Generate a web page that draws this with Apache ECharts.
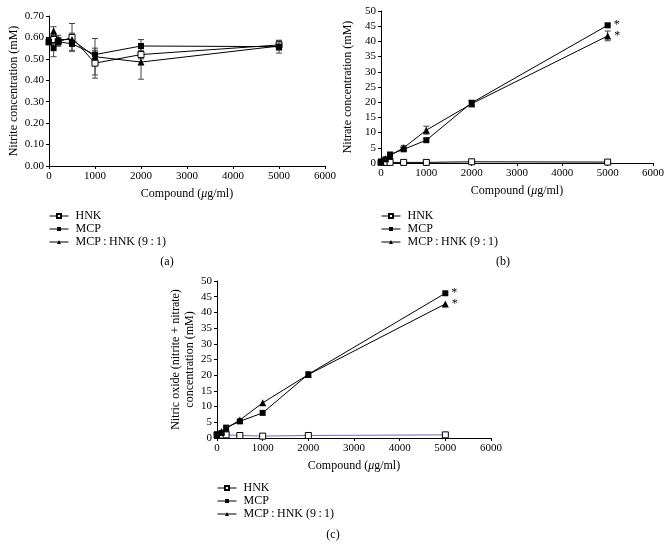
<!DOCTYPE html>
<html><head><meta charset="utf-8">
<script src="https://cdn.jsdelivr.net/npm/echarts@6/dist/echarts.min.js"></script>
<style>html,body{margin:0;padding:0;background:#fff}#c{width:671px;height:557px}</style>
</head><body><div id="c"></div>
<script>
// ---- data ----
const doses = [0, 100, 200, 500, 1000, 2000, 5000];
const xTicks = [0, 1000, 2000, 3000, 4000, 5000, 6000];
const seriesNames = ['HNK', 'MCP', 'MCP\u2009:\u2009HNK (9\u2009:\u20091)'];

// (a) nitrite
const nitriteHNK = [0.58, 0.59, 0.58, 0.60, 0.48, 0.52, 0.565];
const nitriteMCP = [0.58, 0.55, 0.58, 0.57, 0.52, 0.56, 0.557];
const nitriteMix = [0.58, 0.63, 0.59, 0.59, 0.51, 0.485, 0.56];
const nitriteHNKErr = [0.01, 0.02, 0.02, 0.065, 0.07, 0.02, 0.02];
const nitriteMCPErr = [0.01, 0.04, 0.02, 0.03, 0.02, 0.03, 0.03];
const nitriteMixErr = [0.01, 0.02, 0.02, 0.03, 0.085, 0.08, 0.02];

// (b) nitrate
const nitrateHNK = [0.2, 0.2, 0.2, 0.2, 0.2, 0.4, 0.3];
const nitrateMCP = [0.5, 1.2, 2.8, 4.5, 7.5, 19.8, 45.3];
const nitrateMix = [0.5, 1.5, 2.5, 5.0, 10.8, 19.5, 41.8];
const nitrateHNKErr = [0.1, 0.1, 0.1, 0.1, 0.1, 0.2, 0.2];
const nitrateMCPErr = [0.2, 0.3, 0.4, 0.5, 0.6, 0.8, 0.5];
const nitrateMixErr = [0.2, 0.3, 0.4, 0.8, 1.3, 1.0, 1.6];

// (c) nitric oxide
const noHNK = [1.0, 0.9, 1.0, 0.8, 0.6, 0.8, 1.0];
const noMCP = [1.1, 1.6, 3.3, 5.3, 8.0, 20.3, 46.1];
const noMix = [1.1, 2.1, 3.1, 5.7, 11.2, 20.2, 42.7];

// ---- chart ----
const FONT = '"Liberation Serif", "DejaVu Serif", serif';
const chart = echarts.init(document.getElementById('c'), null, {renderer: 'canvas'});

function pts(vals, starLast) {
  return doses.map((d, i) => {
    const item = {value: [d, vals[i]]};
    if (starLast && i === doses.length - 1) {
      item.label = {show: true, formatter: '*', position: 'right', distance: 3,
        fontFamily: FONT, fontSize: 12, color: '#000'};
    }
    return item;
  });
}
function errData(vals, errs) {
  return doses.map((d, i) => [d, vals[i] - errs[i], vals[i] + errs[i]]);
}
function errSeries(idx, vals, errs) {
  return {
    type: 'custom', xAxisIndex: idx, yAxisIndex: idx, z: 1, silent: true,
    data: errData(vals, errs), encode: {x: 0, y: [1, 2]},
    renderItem: function (params, api) {
      const lo = api.coord([api.value(0), api.value(1)]);
      const hi = api.coord([api.value(0), api.value(2)]);
      const w = 3;
      const st = {stroke: '#444', lineWidth: 1};
      return {type: 'group', children: [
        {type: 'line', shape: {x1: lo[0], y1: lo[1], x2: hi[0], y2: hi[1]}, style: st},
        {type: 'line', shape: {x1: lo[0] - w, y1: lo[1], x2: lo[0] + w, y2: lo[1]}, style: st},
        {type: 'line', shape: {x1: hi[0] - w, y1: hi[1], x2: hi[0] + w, y2: hi[1]}, style: st}
      ]};
    }
  };
}
function lineSeries(idx, kind, vals, star, lineColor) {
  const base = {
    name: seriesNames[kind], type: 'line', xAxisIndex: idx, yAxisIndex: idx,
    data: pts(vals, star), z: 3 + kind, animation: false,
    lineStyle: {color: lineColor || '#000', width: 1}
  };
  if (kind === 0) {
    base.symbol = 'rect'; base.symbolSize = 6;
    base.itemStyle = {color: '#fff', borderColor: '#000', borderWidth: 1};
  } else if (kind === 1) {
    base.symbol = 'rect'; base.symbolSize = 6;
    base.itemStyle = {color: '#000', borderColor: '#000', borderWidth: 0};
  } else {
    base.symbol = 'triangle'; base.symbolSize = 7;
    base.itemStyle = {color: '#000', borderColor: '#000', borderWidth: 0};
  }
  return base;
}

const grids = [
  {left: 49, top: 16, width: 276, height: 150},
  {left: 381, top: 11, width: 272, height: 152},
  {left: 217, top: 281, width: 274, height: 157}
];
const yNames = ['Nitrite concentration (mM)', 'Nitrate concentration (mM)',
  'Nitric oxide (nitrite + nitrate)\nconcentration (mM)'];
const yGaps = [28, 26, 16];

const axisLabel = {fontFamily: FONT, fontSize: 11, color: '#000'};
const xAxes = grids.map((g, i) => ({
  type: 'value', gridIndex: i, min: 0, max: 6000, interval: 1000,
  name: '{n|Compound (}{i|\u03bc}{n|g/ml)}', nameLocation: 'middle', nameGap: 22,
  nameTextStyle: {rich: {
    n: {fontFamily: FONT, fontSize: 12, color: '#000'},
    i: {fontFamily: FONT, fontSize: 12, color: '#000', fontStyle: 'italic'}
  }},
  axisLine: {show: true, lineStyle: {color: '#000', width: 1}},
  axisTick: {show: true, length: 3, lineStyle: {color: '#000'}},
  axisLabel: Object.assign({margin: 5, formatter: v => xTicks.includes(v) ? String(v) : ''}, axisLabel),
  splitLine: {show: false}
}));
const yAxes = grids.map((g, i) => ({
  type: 'value', gridIndex: i,
  min: 0, max: i === 0 ? 0.7 : 50, interval: i === 0 ? 0.1 : 5,
  name: yNames[i], nameLocation: 'middle', nameGap: yGaps[i], nameRotate: 90,
  nameTextStyle: {fontFamily: FONT, fontSize: 12, color: '#000', lineHeight: 14},
  axisLine: {show: true, lineStyle: {color: '#000', width: 1}},
  axisTick: {show: true, length: 3, lineStyle: {color: '#000'}},
  axisLabel: Object.assign({margin: 5, formatter: v => i === 0 ? v.toFixed(2) : String(v)}, axisLabel),
  splitLine: {show: false}
}));

const series = [
  errSeries(0, nitriteHNK, nitriteHNKErr),
  errSeries(0, nitriteMCP, nitriteMCPErr),
  errSeries(0, nitriteMix, nitriteMixErr),
  lineSeries(0, 0, nitriteHNK, false),
  lineSeries(0, 2, nitriteMix, false),
  lineSeries(0, 1, nitriteMCP, false),
  errSeries(1, nitrateHNK, nitrateHNKErr),
  errSeries(1, nitrateMCP, nitrateMCPErr),
  errSeries(1, nitrateMix, nitrateMixErr),
  lineSeries(1, 0, nitrateHNK, false),
  lineSeries(1, 2, nitrateMix, true),
  lineSeries(1, 1, nitrateMCP, true),
  lineSeries(2, 0, noHNK, false, '#6b6bb5'),
  lineSeries(2, 2, noMix, true),
  lineSeries(2, 1, noMCP, true)
];

const legendPos = [[44, 205], [376, 205], [212, 477]];
const legends = legendPos.map(p => ({
  left: p[0], top: p[1], orient: 'vertical', itemGap: 1,
  itemWidth: 19, itemHeight: 5, selectedMode: false,
  lineStyle: {width: 1, color: '#000'},
  data: seriesNames,
  textStyle: {fontFamily: FONT, fontSize: 12, color: '#000', padding: [0, 0, 0, 2]}
}));

const captions = [['(a)', 167, 256], ['(b)', 503, 256], ['(c)', 333, 529]].map(c => ({
  text: c[0], left: c[1], top: c[2], textAlign: 'center', padding: 0,
  textStyle: {fontFamily: FONT, fontSize: 12, fontWeight: 'normal', color: '#000'}
}));

chart.setOption({
  animation: false,
  backgroundColor: '#fff',
  title: captions,
  legend: legends,
  grid: grids,
  xAxis: xAxes,
  yAxis: yAxes,
  series: series
});
</script></body></html>
